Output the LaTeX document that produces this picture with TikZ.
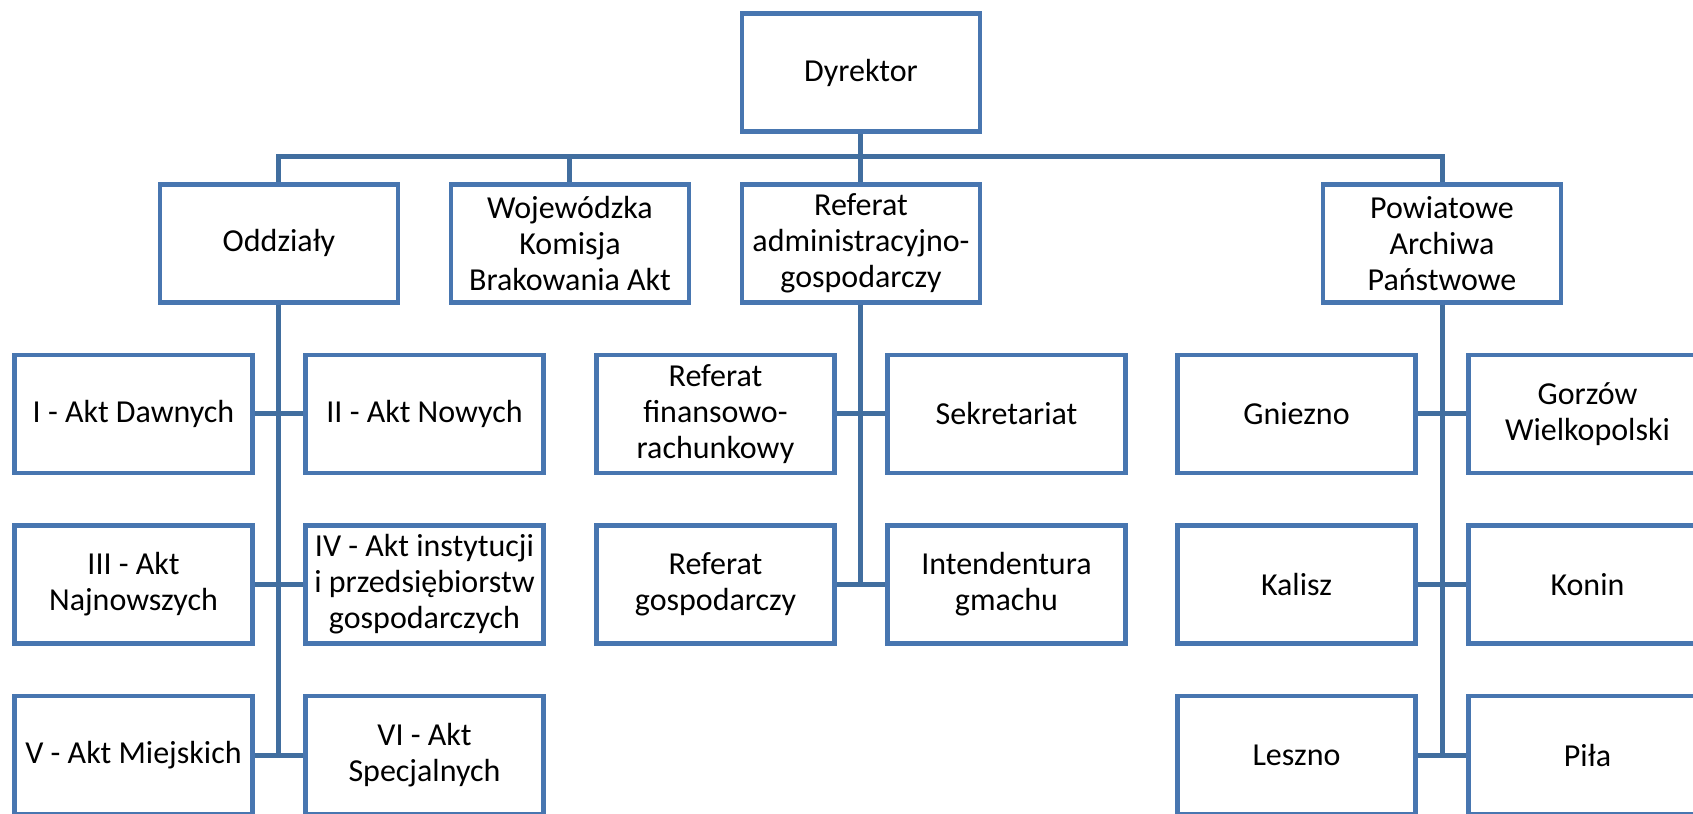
\documentclass[tikz,border=0pt]{standalone}
\usepackage{fontspec}
\setmainfont{Carlito}
\usepackage{xcolor}
\usepackage{tikz}
\usetikzlibrary{positioning}
\definecolor{boxblue}{HTML}{4876B0}
\definecolor{linkblue}{HTML}{416E9F}
\tikzstyle{unit} = [rectangle, font=\fontsize{16pt}{18pt}\selectfont, minimum width=119pt, minimum height=59pt, text centered, align=center, inner sep=1pt, line width=2.35pt, draw=boxblue, fill=white]
\tikzstyle{link} = [line width=2.5pt, draw=linkblue]

\begin{document}
\begin{tikzpicture}[node distance=85.3pt]
\useasboundingbox (-430.5pt,36.35pt) rectangle (416pt,-370.65pt);
\clip (-430.5pt,36.35pt) rectangle (416pt,-370.65pt);
\node (dyrektor) [unit] {Dyrektor};
\node (oddzialy) [unit, below of=dyrektor, xshift=-291pt] {Oddziały};
\node (komisja) [unit, below of=dyrektor, xshift=-145.5pt] {Wojewódzka\\Komisja\\Brakowania Akt};
\node (refAdmin) [unit, below of=dyrektor] {Referat\\administracyjno-\\gospodarczy};
\node (powiatowe) [unit, below of=dyrektor, xshift=290.5pt] {Powiatowe\\Archiwa\\Państwowe};
\node (aktDawne) [unit, below of=oddzialy, xshift=-72.75pt] {I - Akt Dawnych};
\node (aktNowe) [unit, below of=oddzialy, xshift=72.75pt] {II - Akt Nowych};
\node (aktNajnowsze) [unit, below of=aktDawne] {III - Akt\\Najnowszych};
\node (aktInstytucji) [unit, below of=aktNowe] {IV - Akt instytucji\\i przedsiębiorstw\\gospodarczych};
\node (aktMiejskie) [unit, below of=aktNajnowsze] {V - Akt Miejskich};
\node (aktSpecjalne) [unit, below of=aktInstytucji] {VI - Akt\\Specjalnych};
\node (refFinanse) [unit, below of=refAdmin, xshift=-72.75pt] {Referat\\finansowo-\\rachunkowy};
\node (sekretariat) [unit, below of=refAdmin, xshift=72.75pt] {Sekretariat};
\node (refGosp) [unit, below of=refFinanse] {Referat\\gospodarczy};
\node (intendentura) [unit, below of=sekretariat] {Intendentura\\gmachu};
\node (gniezno) [unit, below of=powiatowe, xshift=-72.75pt] {Gniezno};
\node (gorzow) [unit, below of=powiatowe, xshift=72.75pt] {Gorzów\\Wielkopolski};
\node (kalisz) [unit, below of=gniezno] {Kalisz};
\node (konin) [unit, below of=gorzow] {Konin};
\node (leszno) [unit, below of=kalisz] {Leszno};
\node (pila) [unit, below of=konin] {Piła};

\draw [link] (dyrektor.south) -- ++(0,-11.4pt) -| (oddzialy.north);
\draw [link] (dyrektor.south) -- ++(0,-11.4pt) -| (komisja.north);
\draw [link] (dyrektor.south) -- (refAdmin.north);
\draw [link] (dyrektor.south) -- ++(0,-11.4pt) -| (powiatowe.north);
\draw [link] (oddzialy.south) |- (aktDawne.east);
\draw [link] (oddzialy.south) |- (aktNowe.west);
\draw [link] (oddzialy.south) |- (aktNajnowsze.east);
\draw [link] (oddzialy.south) |- (aktInstytucji.west);
\draw [link] (oddzialy.south) |- (aktMiejskie.east);
\draw [link] (oddzialy.south) |- (aktSpecjalne.west);
\draw [link] (refAdmin.south) |- (refFinanse.east);
\draw [link] (refAdmin.south) |- (sekretariat.west);
\draw [link] (refAdmin.south) |- (refGosp.east);
\draw [link] (refAdmin.south) |- (intendentura.west);
\draw [link] (powiatowe.south) |- (gniezno.east);
\draw [link] (powiatowe.south) |- (gorzow.west);
\draw [link] (powiatowe.south) |- (kalisz.east);
\draw [link] (powiatowe.south) |- (konin.west);
\draw [link] (powiatowe.south) |- (leszno.east);
\draw [link] (powiatowe.south) |- (pila.west);
\end{tikzpicture}
\end{document}
